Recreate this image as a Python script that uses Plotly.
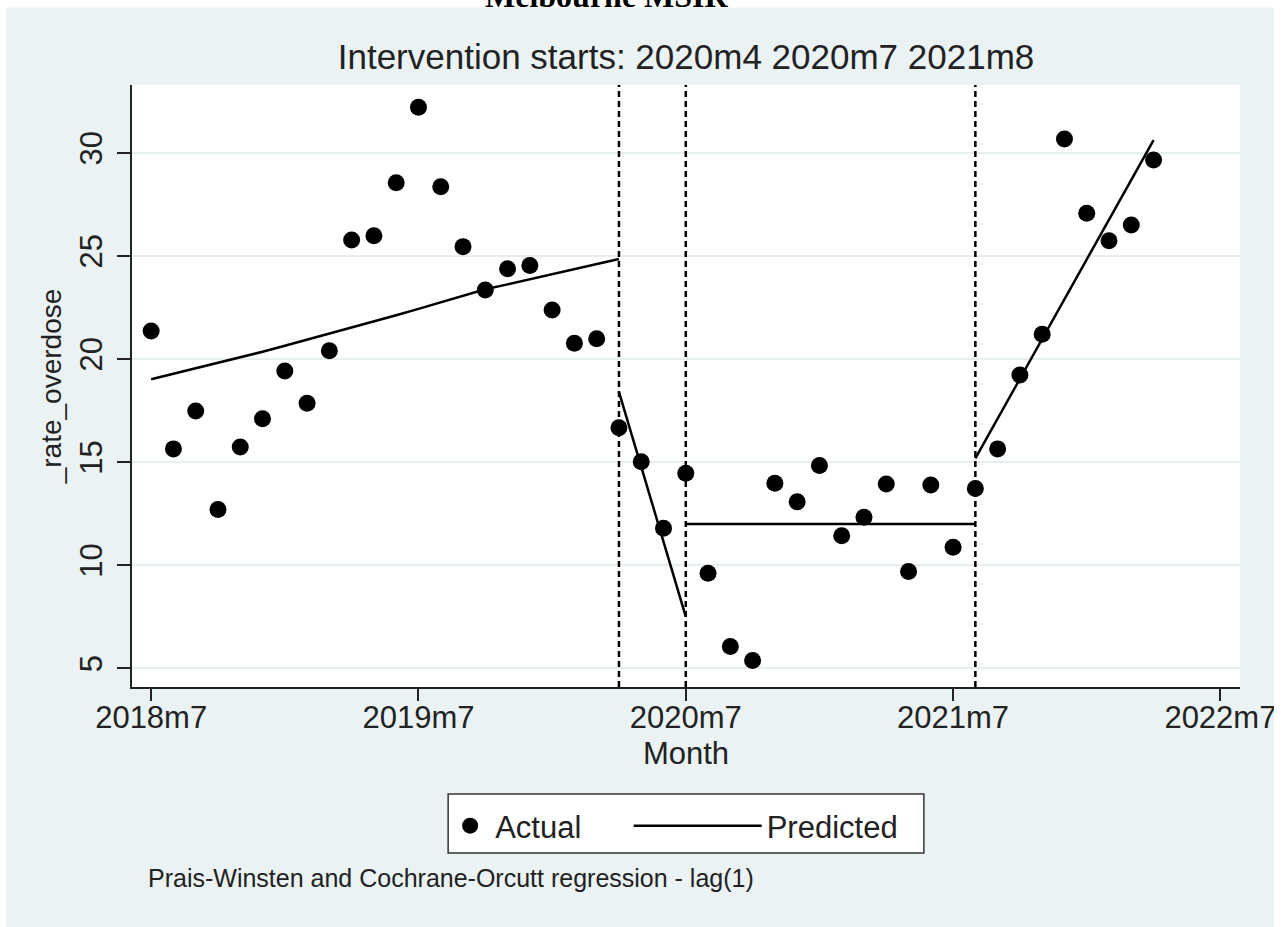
import plotly.graph_objects as go

# ---------------- data ----------------
months = ["2018m7", "2018m8", "2018m9", "2018m10", "2018m11", "2018m12",
          "2019m1", "2019m2", "2019m3", "2019m4", "2019m5", "2019m6",
          "2019m7", "2019m8", "2019m9", "2019m10", "2019m11", "2019m12",
          "2020m1", "2020m2", "2020m3", "2020m4", "2020m5", "2020m6",
          "2020m7", "2020m8", "2020m9", "2020m10", "2020m11", "2020m12",
          "2021m1", "2021m2", "2021m3", "2021m4", "2021m5", "2021m6",
          "2021m7", "2021m8", "2021m9", "2021m10", "2021m11", "2021m12",
          "2022m1", "2022m2", "2022m3", "2022m4"]

actual = [21.36, 15.64, 17.48, 12.70, 15.73, 17.10,
          19.42, 17.85, 20.40, 25.77, 25.98, 28.55,
          32.21, 28.36, 25.45, 23.35, 24.38, 24.54,
          22.38, 20.76, 20.98, 16.67, 15.02, 11.79,
          14.46, 9.61, 6.05, 5.37, 13.97, 13.07,
          14.83, 11.43, 12.32, 13.94, 9.69, 13.89,
          10.87, 13.72, 15.64, 19.22, 21.20, 30.67,
          27.07, 25.74, 26.50, 29.65]

# predicted segments (Prais-Winsten fit), each with its starting month
pred1_start = "2018m7"
pred1 = [19.02, 19.28, 19.54, 19.80, 20.06, 20.35, 20.64, 20.93, 21.22, 21.51,
         21.80, 22.12, 22.43, 22.75, 23.06, 23.38, 23.62, 23.87, 24.11, 24.36,
         24.60, 24.85]
pred2_start = "2020m4"
pred2 = [18.41, 14.77, 11.13, 7.50]
pred3_start = "2020m7"
pred3 = [12.0, 12.0, 12.0, 12.0, 12.0, 12.0, 12.0, 12.0, 12.0, 12.0,
         12.0, 12.0, 12.0, 12.0]
pred4_start = "2021m8"
pred4 = [15.18, 17.11, 19.04, 20.97, 22.90, 24.83, 26.76, 28.69, 30.62]

interventions = ["2020m4", "2020m7", "2021m8"]
x_ticks = ["2018m7", "2019m7", "2020m7", "2021m7", "2022m7"]
y_ticks = [5, 10, 15, 20, 25, 30]


def mnum(label):
    y, m = label.split("m")
    return (int(y) - 2018) * 12 + (int(m) - 7)


# ---------------- geometry helpers (pixel -> paper) ----------------
W, H = 1288, 927
L, R, T, B = 132, 45, 85, 240
PW, PH = W - L - R, H - T - B


def px(xp):
    return (xp - L) / PW


def py(yp):
    return (H - B - yp) / PH


BG = "#EAF2F3"
FONT = "Liberation Sans, Arial, Helvetica, sans-serif"
TXT = "#222222"

fig = go.Figure()

fig.add_trace(go.Scatter(
    x=[mnum(m) for m in months], y=actual, mode="markers", name="Actual",
    marker=dict(color="black", size=17, line=dict(width=0)),
    legend="legend", showlegend=True))

px_list, py_list = [], []
for start, seg in [(pred1_start, pred1), (pred2_start, pred2),
                   (pred3_start, pred3), (pred4_start, pred4)]:
    s = mnum(start)
    px_list += [s + i for i in range(len(seg))] + [None]
    py_list += list(seg) + [None]
fig.add_trace(go.Scatter(
    x=px_list, y=py_list, mode="lines", name="Predicted",
    line=dict(color="black", width=2.5), connectgaps=False,
    legend="legend2", showlegend=True))

for iv in interventions:
    fig.add_vline(x=mnum(iv), line=dict(color="black", width=2.5, dash="6px,4px"),
                  layer="above")

shapes = [
    # white margins around the bluish graph region
    dict(type="rect", xref="paper", yref="paper", x0=px(-20), x1=px(6), y0=py(960), y1=py(-20),
         fillcolor="white", line=dict(width=0), layer="below"),
    dict(type="rect", xref="paper", yref="paper", x0=px(-20), x1=px(1300), y0=py(7.5), y1=py(-20),
         fillcolor="white", line=dict(width=0), layer="below"),
    dict(type="rect", xref="paper", yref="paper", x0=px(1277), x1=px(1300), y0=py(960), y1=py(-20),
         fillcolor="white", line=dict(width=0), layer="above"),
    # legend frame
    dict(type="rect", xref="paper", yref="paper", x0=px(449), x1=px(926), y0=py(853), y1=py(794),
         fillcolor="white", line=dict(color="#333333", width=1.5), layer="below"),
]
for s in shapes:
    fig.add_shape(**s)

fig.add_annotation(text="<b>Melbourne MSIR</b>", xref="paper", yref="paper",
                   x=px(608), y=py(-4), xanchor="center", yanchor="middle",
                   showarrow=False, font=dict(family="Liberation Serif, Times New Roman, serif",
                                             size=32, color="black"))
fig.add_annotation(text="Prais-Winsten and Cochrane-Orcutt regression - lag(1)",
                   xref="paper", yref="paper", x=px(146), y=py(878),
                   xanchor="left", yanchor="middle", showarrow=False,
                   font=dict(family=FONT, size=25, color=TXT))

fig.update_layout(
    width=W, height=H, autosize=False,
    margin=dict(l=L, r=R, t=T, b=B, pad=0),
    paper_bgcolor=BG, plot_bgcolor="white",
    font=dict(family=FONT, color=TXT),
    title=dict(text="Intervention starts: 2020m4 2020m7 2021m8",
               x=0.5, xref="paper", xanchor="center",
               y=1 - 69 / H, yref="container", yanchor="bottom",
               font=dict(size=35, color=TXT, family=FONT)),
    xaxis=dict(range=[-0.86, 48.88], tickvals=[mnum(t) for t in x_ticks], ticktext=x_ticks,
               showgrid=False, zeroline=False, showline=True, linecolor=TXT, linewidth=1.5,
               ticks="outside", ticklen=12, tickwidth=1.5, tickcolor=TXT,
               ticklabelstandoff=-10,
               tickfont=dict(size=31, color=TXT),
               title=dict(text="Month", font=dict(size=31, color=TXT), standoff=8)),
    yaxis=dict(range=[4.09, 33.29], tickvals=y_ticks, showgrid=True, gridcolor="#E6EEF0",
               gridwidth=1.5, zeroline=False, showline=True, linecolor=TXT, linewidth=1.5,
               ticks="outside", ticklen=13, tickwidth=1.5, tickcolor=TXT, tickangle=-90,
               ticklabelstandoff=3,
               tickfont=dict(size=31, color=TXT),
               title=dict(text="_rate_overdose", font=dict(size=28, color=TXT), standoff=4)),
    legend=dict(orientation="h", x=px(446), y=py(826), xanchor="left", yanchor="middle",
                bgcolor="rgba(0,0,0,0)", borderwidth=0, itemwidth=40,
                font=dict(size=31, color=TXT)),
    legend2=dict(orientation="h", x=px(630), y=py(826), xanchor="left", yanchor="middle",
                 bgcolor="rgba(0,0,0,0)", borderwidth=0, itemwidth=128,
                 font=dict(size=31, color=TXT)),
)

fig.write_html("out.html", config={"displayModeBar": False},
               post_script="document.body.style.margin='0px';"
                           "document.body.style.overflow='hidden';")
